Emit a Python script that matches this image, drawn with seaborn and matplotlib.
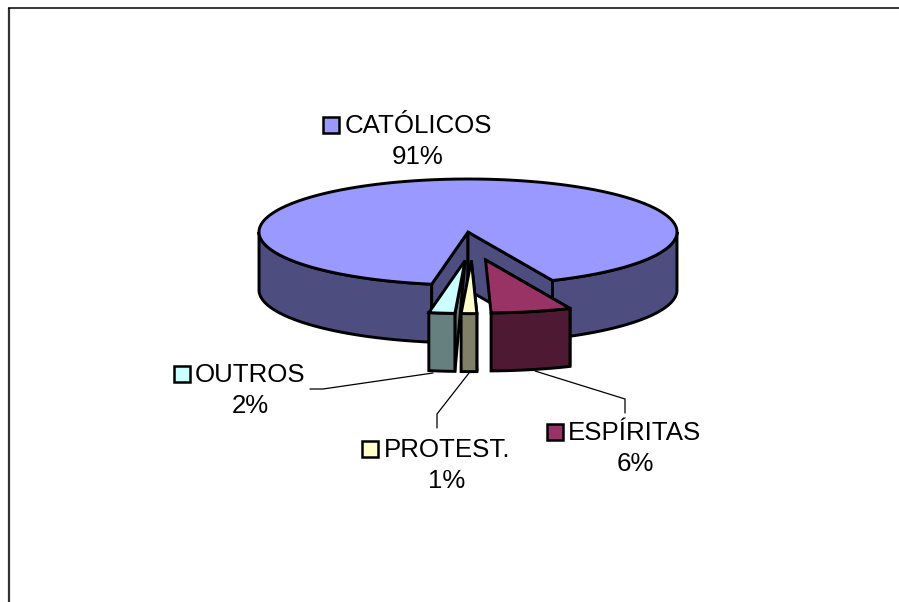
import numpy as np
import seaborn as sns
import matplotlib.pyplot as plt
from matplotlib.patches import Polygon, Rectangle

labels = ['CATÓLICOS', 'ESPÍRITAS', 'PROTEST.', 'OUTROS']
values = [90.6, 6.2, 1.2, 2.0]
top_colors = ['#9999FF', '#993366', '#FFFFCC', '#CCFFFF']
side_colors = ['#4D4D80', '#4D1933', '#808066', '#668080']

# pie geometry, in pixels
(cx, cy) = (468, 232)
(rx, ry) = (209, 53)
depth = 58
start = 190
explode = [0, 0.5, 0.5, 0.5]
lw = 2.1


def ring(a, b, n=200):
    t = np.radians(np.linspace(a, b, n))
    return np.column_stack((rx * np.sin(t), -ry * np.cos(t)))


def draw(ax, pts, color, z):
    ax.add_patch(Polygon(pts, closed=True, facecolor=color, edgecolor='black',
                         linewidth=lw, joinstyle='miter', zorder=z))


def draw_slice(ax, a, b, e, top, side, z):
    mid = np.radians((a + b) / 2)
    off = np.array([0.59 * e * rx * np.sin(mid) + 4, -1.08 * e * ry * np.cos(mid)])
    c = np.array([cx, cy]) + off
    down = np.array([0, depth])
    outer = ring(a, b) + c

    # inner walls, only those that face the viewer
    if a > 180:
        draw(ax, [c, outer[0], outer[0] + down], side, z)
    if b < 180:
        draw(ax, [c, outer[-1], outer[-1] + down], side, z)

    # outer wall
    draw(ax, np.vstack((outer, outer[::-1] + down)), side, z + 0.2)
    draw(ax, np.vstack(([c], outer)), top, z + 0.5)


def draw_main(ax, a, b, top, side):
    c = np.array([cx, cy])
    down = np.array([0, depth])
    # b runs past 360: the two visible stretches of the outer wall
    for (u, v) in ((90, b - 360), (a, 270)):
        edge = ring(u, v) + c
        draw(ax, np.vstack((edge, edge[::-1] + down)), side, 1)
    outer = ring(a, b) + c
    draw(ax, [c, outer[0], outer[0] + down, c + down], side, 2)
    draw(ax, [c, outer[-1], outer[-1] + down, c + down], side, 2)
    draw(ax, np.vstack(([c], outer)), top, 3)


sns.set_theme(style='white')
plt.rcParams['font.family'] = ['Liberation Sans', 'DejaVu Sans']

fig = plt.figure(figsize=(8.99, 6.02), dpi=100)
ax = fig.add_axes([0, 0, 1, 1])
ax.set_xlim(0, 899)
ax.set_ylim(602, 0)
ax.axis('off')

# page frame, open on the right and at the bottom
ax.plot([9, 9], [8, 602], color='#333333', lw=1.6, solid_capstyle='butt')
ax.plot([8, 899], [8, 8], color='black', lw=1.1, solid_capstyle='butt')

angles = np.cumsum([0] + [v * 3.6 for v in values]) + start
draw_main(ax, angles[0], angles[1], top_colors[0], side_colors[0])
for (k, i) in enumerate([3, 2, 1]):
    draw_slice(ax, angles[i], angles[i + 1], explode[i], top_colors[i], side_colors[i], 5 + k)

# leader lines
leaders = [
    ([433, 323, 310], [373, 389, 389]),
    ([469, 437, 437], [373, 414, 428]),
    ([535, 625, 625], [371, 399, 413]),
]
for (xs, ys) in leaders:
    ax.plot(xs, ys, color='black', lw=0.9, zorder=4, solid_joinstyle='miter')

# data labels: name centred over percent, key to the left of the name
label_pos = {
    0: (418, 124.5, 323),
    1: (635, 431.5, 547),
    2: (447, 448, 362),
    3: (250, 373, 174),
}
for (i, (x, y, key_x)) in label_pos.items():
    ax.text(x, y + 8.7, labels[i], ha='center', va='baseline', fontsize=18.6, color='black', zorder=10)
    ax.text(x, y + 39.9, f'{values[i]:.0f}%', ha='center', va='baseline', fontsize=18.6, color='black', zorder=10)
    ax.add_patch(Rectangle((key_x, y - 7.3), 16, 16, facecolor=top_colors[i],
                           edgecolor='black', linewidth=1.8, zorder=10))

fig.savefig('out.png', dpi=100)
